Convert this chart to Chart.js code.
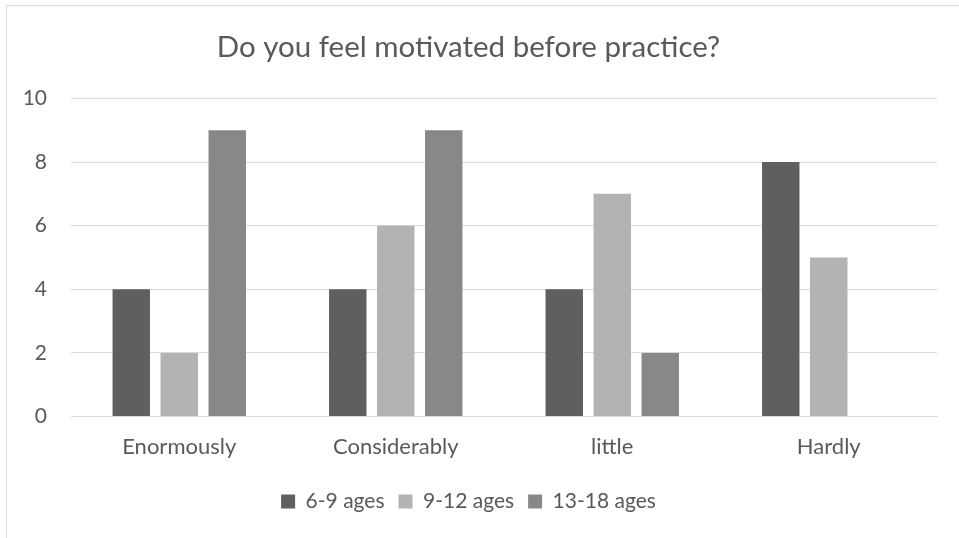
<!DOCTYPE html>
<html>
<head>
<meta charset="utf-8">
<script src="https://cdn.jsdelivr.net/npm/chart.js@4/dist/chart.umd.min.js"></script>
<style>
  html, body { margin: 0; padding: 0; background: #fff; overflow: hidden; }
  #frame {
    position: absolute; left: 6px; top: 5px;
    width: 1000px; height: 600px;
    border: 1px solid #d9d9d9;
  }
  #wrap { position: absolute; left: 0; top: 0; width: 959px; height: 538px; }
</style>
</head>
<body>
<div id="frame"></div>
<div id="wrap"><canvas id="chart"></canvas></div>
<script>
const categories = ["Enormously", "Considerably", "little", "Hardly"]
const ages6to9 = [4, 4, 4, 8]
const ages9to12 = [2, 6, 7, 5]
const ages13to18 = [9, 9, 2, 0]
const seriesNames = ["6-9 ages", "9-12 ages", "13-18 ages"]
const colors = ["#5f5f5f", "#b3b3b3", "#888888"]

const textColor = "#595959"
const fontFamily = "Lato, 'Open Sans', sans-serif"

const canvas = document.getElementById("chart")

const chart = new Chart(canvas, {
  type: "bar",
  data: {
    labels: categories,
    datasets: [ages6to9, ages9to12, ages13to18].map((values, i) => ({
      label: seriesNames[i],
      data: values,
      backgroundColor: colors[i],
      borderWidth: 0,
      categoryPercentage: 0.665,
      barPercentage: 0.78,
    })),
  },
  options: {
    responsive: true,
    maintainAspectRatio: false,
    animation: false,
    layout: { padding: { left: 0, right: 22, top: 0, bottom: 16 } },
    plugins: {
      title: {
        display: true,
        text: "Do you feel motivated before practice?",
        color: textColor,
        font: { family: fontFamily, size: 29.5, weight: "normal" },
        padding: { top: 30, bottom: 33 },
      },
      legend: {
        position: "bottom",
        labels: {
          color: textColor,
          font: { family: fontFamily, size: 21 },
          boxWidth: 14,
          boxHeight: 14,
          padding: 14,
        },
      },
      tooltip: { enabled: false },
    },
    scales: {
      x: {
        grid: { display: false, drawTicks: false },
        border: { color: "#d9d9d9", width: 1 },
        ticks: {
          color: textColor,
          font: { family: fontFamily, size: 22 },
          padding: 17,
        },
      },
      y: {
        min: 0,
        max: 10,
        afterFit: (s) => { s.width = 71 },
        grid: { color: "#d9d9d9", lineWidth: 1, drawTicks: false },
        border: { display: false },
        ticks: {
          stepSize: 2,
          color: textColor,
          font: { family: fontFamily, size: 21 },
          padding: 24,
        },
      },
    },
  },
})
</script>
</body>
</html>
